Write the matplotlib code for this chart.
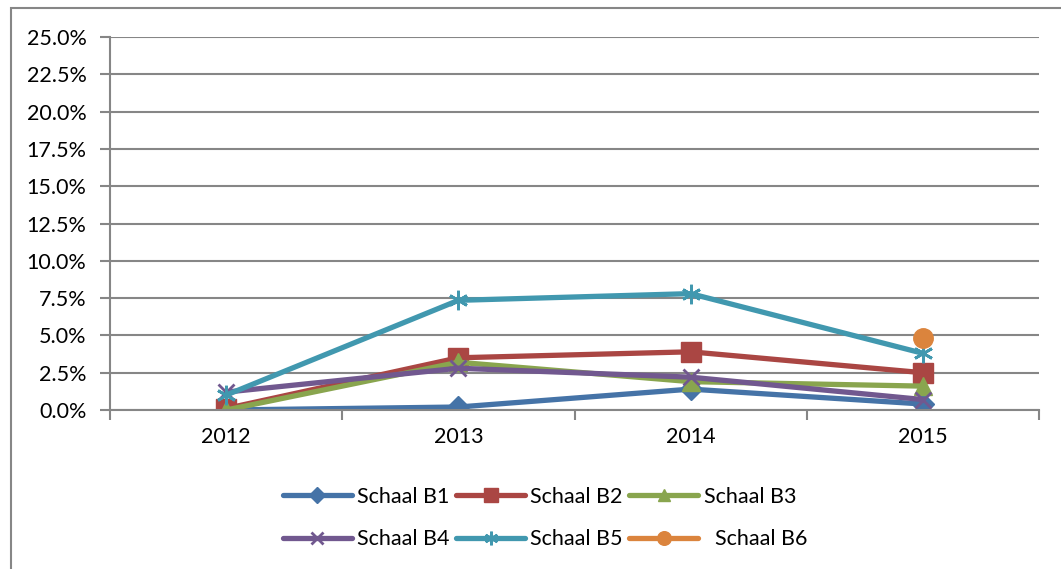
import matplotlib.pyplot as plt
import matplotlib.patches as mpatches
import numpy as np
from matplotlib.ticker import FuncFormatter, FixedLocator

plt.rcParams['font.family'] = ['Lato', 'DejaVu Sans']

years = ['2012', '2013', '2014', '2015']
labels = ['Schaal B1', 'Schaal B2', 'Schaal B3', 'Schaal B4', 'Schaal B5', '  Schaal B6']

# waarden in procenten
b1 = [0.0, 0.2, 1.4, 0.4]
b2 = [0.1, 3.5, 3.9, 2.5]
b3 = [0.0, 3.2, 1.9, 1.6]
b4 = [1.2, 2.8, 2.2, 0.7]
b5 = [1.0, 7.35, 7.8, 3.8]
b6 = [np.nan, np.nan, np.nan, 4.8]

series = [b1, b2, b3, b4, b5, b6]
colors = ['#4573A7', '#AA4643', '#89A54E', '#71588F', '#4198AF', '#DB843D']
markers = ['D', 's', '^', 'x', (6, 2, 0), 'o']
msizes = [11, 14, 13, 12, 14, 14]

fig = plt.figure(figsize=(10.61, 5.69), dpi=100)
ax = fig.add_axes([110 / 1061, 1 - 410 / 569, (1039 - 110) / 1061, (410 - 37) / 569])

x = np.arange(len(years))
handles = []
for s, c, m, ms, lab in zip(series, colors, markers, msizes, labels):
    h, = ax.plot(x, s, color=c, lw=3.8, marker=m, markersize=ms,
                 markeredgewidth=2 if m in ('x', (6, 2, 0)) else 1,
                 markeredgecolor=c, label=lab, solid_capstyle='round')
    handles.append(h)

ax.set_xlim(-0.5, 3.5)
ax.set_ylim(0, 25)
ax.set_yticks(np.arange(0, 25.1, 2.5))
ax.yaxis.set_major_formatter(FuncFormatter(lambda v, p: f'{v:.1f}%'))
ax.set_xticks(x)
ax.set_xticklabels(years)
ax.xaxis.set_minor_locator(FixedLocator(np.arange(-0.5, 3.6, 1)))
ax.tick_params(axis='x', which='major', length=0, pad=12, labelsize=15.5)
ax.tick_params(axis='x', which='minor', length=7, color='#868686', width=1.5)
ax.tick_params(axis='y', length=7, color='#868686', width=1.5, labelsize=15.5, pad=10)
ax.grid(axis='y', color='#868686', lw=1.5)
ax.set_axisbelow(True)
for sp in ['top', 'right']:
    ax.spines[sp].set_visible(False)
for sp in ['left', 'bottom']:
    ax.spines[sp].set_color('#868686')
    ax.spines[sp].set_linewidth(1.5)

order = [0, 3, 1, 4, 2, 5]
fig.legend([handles[i] for i in order], [labels[i] for i in order],
           loc='center', bbox_to_anchor=(545 / 1061, 1 - 518 / 569), ncol=3,
           frameon=False, fontsize=15.5, handlelength=3.2, handletextpad=0.25,
           columnspacing=0.3, labelspacing=1.05, markerscale=0.7)

border = mpatches.Rectangle((11 / 1061, -0.1), 1.2, 1.1 - 8 / 569,
                            transform=fig.transFigure, fill=False,
                            edgecolor='#868686', lw=1.5)
fig.patches.append(border)

fig.savefig('out.png', dpi=100)
